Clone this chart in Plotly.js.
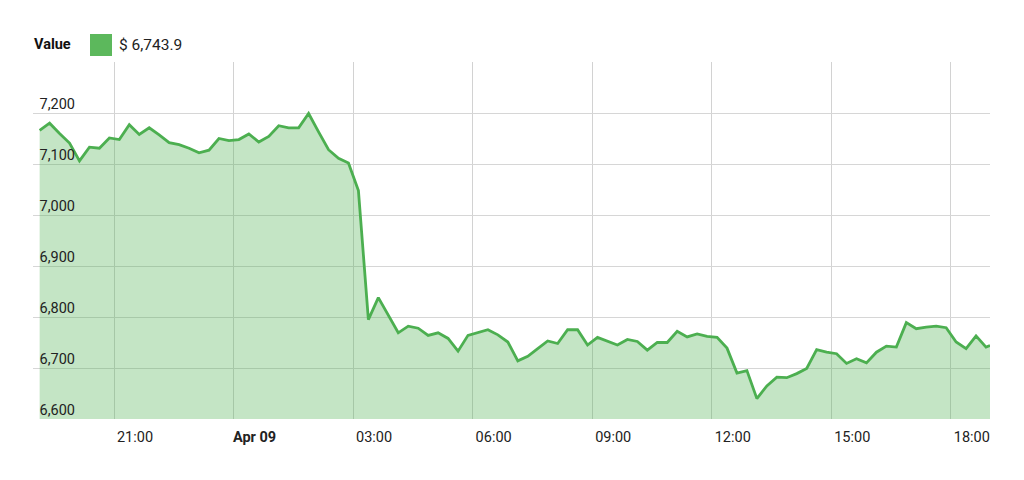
<!DOCTYPE html>
<html>
<head>
<meta charset="utf-8">
<script src="https://cdn.plot.ly/plotly-3.0.1.min.js"></script>
<style>html,body{margin:0;padding:0;background:#fff;}#chart{width:1024px;height:480px;}</style>
</head>
<body>
<div id="chart"></div>
<script>
// Price values, 15-minute samples from Apr 08 19:08, plus the last live value
const values = [
  7166, 7180, 7160, 7141, 7106, 7133, 7131, 7151, 7148, 7177,
  7158, 7171, 7157, 7142, 7138, 7131, 7122, 7127, 7150, 7146,
  7148, 7159, 7143, 7154, 7175, 7171, 7171, 7199, 7163, 7128,
  7111, 7102, 7048, 6795, 6838, 6803, 6769, 6782, 6778, 6764,
  6769, 6758, 6733, 6764, 6769, 6775, 6765, 6751, 6714, 6723,
  6738, 6753, 6748, 6775, 6775, 6745, 6760, 6753, 6745, 6756,
  6752, 6735, 6750, 6750, 6772, 6761, 6767, 6762, 6760, 6739,
  6690, 6695, 6640, 6665, 6682, 6681, 6689, 6699, 6736, 6731,
  6728, 6709, 6718, 6710, 6731, 6743, 6741, 6789, 6777, 6780,
  6782, 6779, 6751, 6738, 6763, 6741, 6743.9
];
const startTime = '2018-04-08T19:08:00';
const stepMinutes = 15;
const lastTime = '2018-04-09T18:59:00';

const tickVals = ['2018-04-08 21:00','2018-04-09 00:00','2018-04-09 03:00','2018-04-09 06:00',
                  '2018-04-09 09:00','2018-04-09 12:00','2018-04-09 15:00','2018-04-09 18:00'];
const tickText = ['21:00','<b>Apr 09</b>','03:00','06:00','09:00','12:00','15:00','18:00'];
const yTickVals = [6600, 6700, 6800, 6900, 7000, 7100, 7200, 7300];
const yTickText = ['6,600','6,700','6,800','6,900','7,000','7,100','7,200',''];

function fmt(d){
  const p = n => String(n).padStart(2,'0');
  return d.getFullYear()+'-'+p(d.getMonth()+1)+'-'+p(d.getDate())+' '+p(d.getHours())+':'+p(d.getMinutes());
}
const times = [];
const t0 = new Date(startTime);
for (let i = 0; i < values.length - 1; i++) {
  times.push(fmt(new Date(t0.getTime() + i*stepMinutes*60000)));
}
times.push(fmt(new Date(lastTime)));

const lastVal = values[values.length-1];
const lastLabel = '$ ' + lastVal.toLocaleString('en-US',{minimumFractionDigits:1, maximumFractionDigits:1});

const trace = {
  x: times, y: values, type: 'scatter', mode: 'lines',
  line: {color: '#4caf50', width: 2.8},
  fill: 'tozeroy', fillcolor: 'rgba(76,175,80,0.33)',
  hoverinfo: 'skip', showlegend: false
};

const layout = {
  width: 1024, height: 480,
  margin: {l: 33, r: 34, t: 62, b: 61},
  paper_bgcolor: '#fff', plot_bgcolor: '#fff',
  font: {family: 'Roboto, sans-serif', size: 14, color: '#222'},
  showlegend: false,
  xaxis: {
    type: 'date',
    range: ['2018-04-08 18:58', '2018-04-09 18:59'],
    tickmode: 'array', tickvals: tickVals, ticktext: tickText,
    showgrid: true, gridcolor: '#d2d2d2', gridwidth: 1,
    zeroline: false, showline: false, ticks: '',
    ticklabelshift: 21, ticklabelstandoff: 7,
    tickfont: {size: 14.5, color: '#222'}
  },
  yaxis: {
    range: [6600, 7300],
    tickmode: 'array', tickvals: yTickVals, ticktext: yTickText,
    showgrid: true, gridcolor: '#d6d6d6', gridwidth: 1,
    zeroline: false, showline: false, ticks: '', automargin: false,
    ticklabelposition: 'outside', ticklabelshift: -9, ticklabelstandoff: -43,
    tickfont: {size: 14.5, color: '#222'}
  },
  shapes: [
    {type: 'rect', xref: 'paper', yref: 'paper', layer: 'above',
     x0: 57/957, x1: 79/957, y0: (480-61-56)/357, y1: (480-61-34)/357,
     line: {width: 0}, fillcolor: '#5cb85c'}
  ],
  annotations: [
    {xref: 'paper', yref: 'paper', x: -0.001, y: (480-61-45)/357, xanchor: 'left', yanchor: 'middle',
     text: '<b>Value</b>', showarrow: false, font: {size: 14.5, color: '#111'}},
    {xref: 'paper', yref: 'paper', x: 84/957, y: (480-61-45)/357, xanchor: 'left', yanchor: 'middle',
     text: lastLabel, showarrow: false, font: {size: 15.5, color: '#222'}}
  ]
};

Plotly.newPlot('chart', [trace], layout, {displayModeBar: false, staticPlot: true});
</script>
</body>
</html>
